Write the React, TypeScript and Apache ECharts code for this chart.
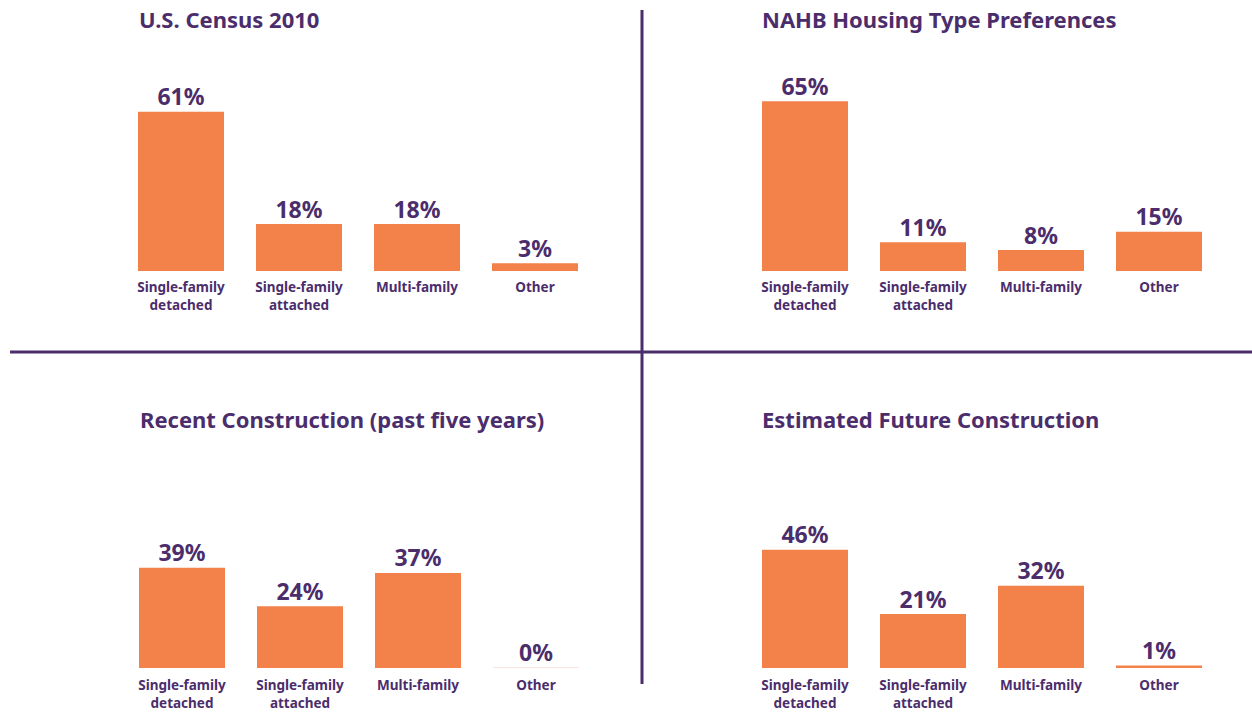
import React, { useEffect, useRef } from "react";
import * as echarts from "echarts";

const categories = ["Single-family\ndetached", "Single-family\nattached", "Multi-family", "Other"];
const panelTitles = [
  "U.S. Census 2010",
  "NAHB Housing Type Preferences",
  "Recent Construction (past five years)",
  "Estimated Future Construction",
];
const census2010 = [61, 18, 18, 3];
const nahbPreferences = [65, 11, 8, 15];
const recentConstruction = [39, 24, 37, 0];
const futureConstruction = [46, 21, 32, 1];
const panelValues = [census2010, nahbPreferences, recentConstruction, futureConstruction];

const PURPLE = "#4b2d6c";
const ORANGE = "#f2814a";
const FONT = "'Noto Sans', 'Open Sans', sans-serif";

export default function App() {
  const ref = useRef<HTMLDivElement>(null);
  useEffect(() => {
    if (!ref.current) return;
    const chart = echarts.init(ref.current, null, { renderer: "svg" });
    const grids = [
      { left: 122, top: 10, width: 472, height: 261 },
      { left: 746, top: 10, width: 472, height: 261 },
      { left: 123, top: 411, width: 472, height: 261 },
      { left: 746, top: 411, width: 472, height: 261 },
    ];
    const labelMargins = [7, 7, 8, 8];
    const titlePos = [
      { left: 139, top: 8 },
      { left: 762, top: 8 },
      { left: 140, top: 408 },
      { left: 762, top: 408 },
    ];
    chart.setOption({
      animation: false,
      backgroundColor: "#ffffff",
      title: panelTitles.map((t, i) => ({
        text: t,
        left: titlePos[i].left,
        top: titlePos[i].top,
        padding: 0,
        textStyle: { color: PURPLE, fontSize: 22, fontWeight: "bold", fontFamily: FONT },
      })),
      grid: grids,
      xAxis: grids.map((_, i) => ({
        type: "category",
        gridIndex: i,
        data: categories,
        axisLine: { show: false },
        axisTick: { show: false },
        axisLabel: {
          color: PURPLE,
          fontSize: 13.5,
          fontWeight: "bold",
          fontFamily: FONT,
          lineHeight: 18,
          margin: labelMargins[i],
          interval: 0,
        },
      })),
      yAxis: grids.map((_, i) => ({
        type: "value",
        gridIndex: i,
        min: 0,
        max: 100,
        show: false,
        splitLine: { show: false },
      })),
      series: panelValues.map((vals, i) => ({
        type: "bar",
        xAxisIndex: i,
        yAxisIndex: i,
        barWidth: 86,
        barMinHeight: 1,
        data: vals.map((v) => ({
          value: v,
          itemStyle: { color: v === 0 ? "#fbe4da" : ORANGE },
        })),
        label: {
          show: true,
          position: "top",
          distance: 4,
          formatter: "{c}%",
          color: PURPLE,
          fontSize: 23,
          fontWeight: "bold",
          fontFamily: FONT,
        },
      })),
      graphic: [
        {
          type: "line",
          shape: { x1: 642, y1: 10, x2: 642, y2: 684 },
          style: { stroke: PURPLE, lineWidth: 3 },
        },
        {
          type: "line",
          shape: { x1: 10, y1: 352, x2: 1252, y2: 352 },
          style: { stroke: PURPLE, lineWidth: 3 },
        },
      ],
    });
    return () => chart.dispose();
  }, []);
  return (
    <div
      ref={ref}
      style={{ position: "fixed", left: 0, top: 0, width: 1252, height: 712 }}
    />
  );
}
